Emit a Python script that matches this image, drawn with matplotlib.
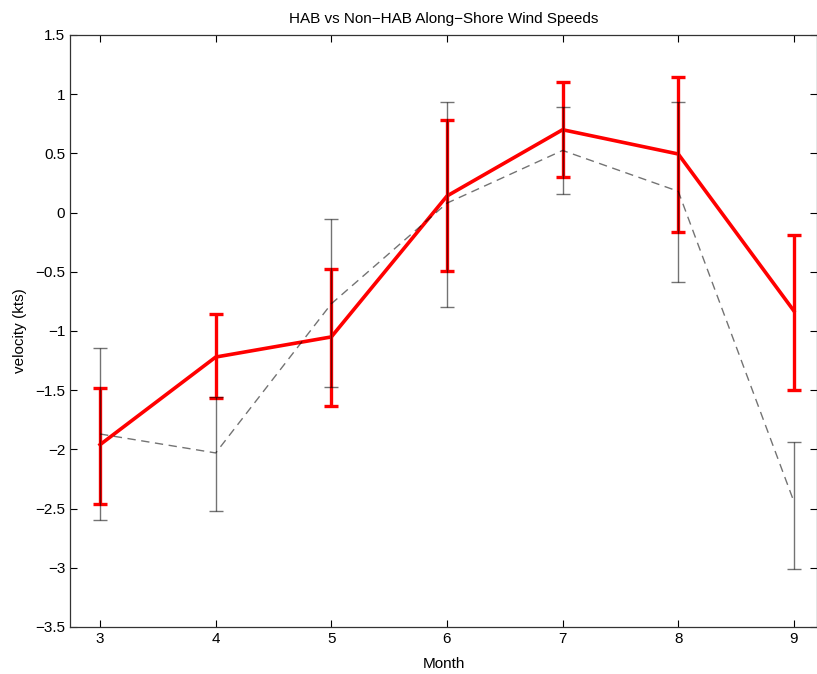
import matplotlib.pyplot as plt

months = [3, 4, 5, 6, 7, 8, 9]

# HAB years (red)
hab_mean = [-1.96, -1.22, -1.05, 0.14, 0.70, 0.495, -0.83]
hab_low = [-2.46, -1.57, -1.63, -0.49, 0.30, -0.16, -1.50]
hab_high = [-1.48, -0.86, -0.48, 0.78, 1.105, 1.145, -0.19]

# Non-HAB years (black dashed)
non_mean = [-1.87, -2.03, -0.77, 0.08, 0.525, 0.18, -2.44]
non_low = [-2.60, -2.52, -1.47, -0.80, 0.16, -0.59, -3.01]
non_high = [-1.14, -1.56, -0.055, 0.93, 0.895, 0.93, -1.94]

plt.rcParams['font.family'] = ['Liberation Sans', 'DejaVu Sans']
plt.rcParams['axes.unicode_minus'] = True

fig = plt.figure(figsize=(8.17, 6.74), dpi=100)
ax = fig.add_axes([70 / 817, 47 / 674, 747 / 817, 592 / 674])

hab_err = [[m - l for m, l in zip(hab_mean, hab_low)],
           [h - m for m, h in zip(hab_mean, hab_high)]]
non_err = [[m - l for m, l in zip(non_mean, non_low)],
           [h - m for m, h in zip(non_mean, non_high)]]

ax.errorbar(months, hab_mean, yerr=hab_err, color='#ff0000', lw=2.6,
            elinewidth=2.4, capsize=5, capthick=2.4, zorder=2)
ax.errorbar(months, non_mean, yerr=non_err, color='black', alpha=0.55,
            lw=1.0, ls=(0, (6, 4)), elinewidth=1.0, capsize=5, capthick=1.0,
            zorder=3)

ax.set_xlim(2.74, 9.2)
ax.set_ylim(-3.5, 1.5)
ax.set_xticks(months)
ax.set_yticks([-3.5, -3, -2.5, -2, -1.5, -1, -0.5, 0, 0.5, 1, 1.5])
ax.set_yticklabels(['\u22123.5', '\u22123', '\u22122.5', '\u22122', '\u22121.5',
                    '\u22121', '\u22120.5', '0', '0.5', '1', '1.5'])
ax.tick_params(direction='in', top=True, right=True, length=5, width=0.8,
               labelsize=11, colors='black')
for s in ax.spines.values():
    s.set_linewidth(0.9)
    s.set_color('#333333')

ax.set_title('HAB vs Non\u2212HAB Along\u2212Shore Wind Speeds', fontsize=11, pad=9)
ax.set_xlabel('Month', fontsize=11, labelpad=8)
ax.set_ylabel('velocity (kts)', fontsize=11, labelpad=6)

fig.savefig('out.png', dpi=100)
